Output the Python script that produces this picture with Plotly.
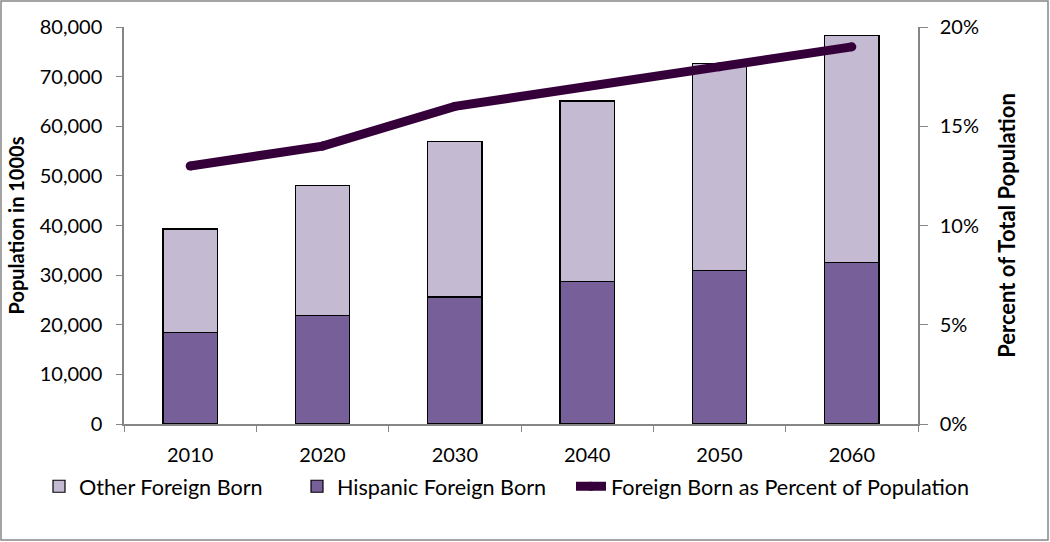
import plotly.graph_objects as go

years = ["2010", "2020", "2030", "2040", "2050", "2060"]
hispanic = [18500, 21800, 25600, 28700, 31000, 32500]
total = [39300, 48000, 56900, 65100, 72600, 78300]
other = [t - h for t, h in zip(total, hispanic)]
pct = [0.13, 0.14, 0.16, 0.17, 0.18, 0.19]

FONT = "Lato"
W, H = 1050, 542
ml, mr, mt, mb = 124, 132, 27, 118
pw, ph = W - ml - mr, H - mt - mb


def px_x(p):
    return (p - ml) / pw


fig = go.Figure()
fig.add_trace(go.Bar(x=years, y=hispanic, name="Hispanic Foreign Born",
                     marker=dict(color="#775F99", line=dict(color="black", width=1.2)),
                     legend="legend2"))
fig.add_trace(go.Bar(x=years, y=other, name="Other Foreign Born",
                     marker=dict(color="#C4BBD2", line=dict(color="black", width=1.2)),
                     legend="legend"))
fig.add_trace(go.Scatter(x=years, y=pct, name="Foreign Born as Percent of Population",
                         mode="lines+markers", yaxis="y2",
                         line=dict(color="#35003A", width=9),
                         marker=dict(color="#35003A", size=9),
                         legend="legend3"))

leg_common = dict(orientation="h", xanchor="left", y=-0.158, yanchor="middle",
                  font=dict(family=FONT, size=21.6), itemwidth=30,
                  bgcolor="rgba(0,0,0,0)")

fig.update_layout(
    width=W, height=H,
    margin=dict(l=ml, r=mr, t=mt, b=mb),
    paper_bgcolor="white", plot_bgcolor="white",
    barmode="stack", bargap=0.59,
    font=dict(family=FONT, size=20, color="black"),
    showlegend=True,
    legend=dict(x=px_x(39), **leg_common),
    legend2=dict(x=px_x(297), **leg_common),
    legend3=dict(x=px_x(571), **leg_common),
    xaxis=dict(type="category", showline=True, linecolor="#868686", linewidth=1.5,
               ticks="outside", tickson="boundaries", ticklen=6, tickcolor="#868686",
               showgrid=False, tickfont=dict(size=20), ticklabelstandoff=12),
    yaxis=dict(range=[0, 80000], dtick=10000, tickformat=",d", showline=True,
               linecolor="#868686", linewidth=1.5, ticks="outside", ticklen=6,
               tickcolor="#868686", showgrid=False, zeroline=False,
               ticklabelstandoff=10,
               title=dict(text="<b>Population in 1000s</b>", font=dict(size=20), standoff=10),
               tickfont=dict(size=20)),
    yaxis2=dict(range=[0, 0.2], dtick=0.05, tickformat=".0%", overlaying="y", side="right",
                showline=True, linecolor="#868686", linewidth=1.5, ticks="outside",
                ticklen=8, tickcolor="#868686", showgrid=False, zeroline=False,
                ticklabelstandoff=8,
                title=dict(text="<b>Percent of Total Population</b>", font=dict(size=22), standoff=22),
                tickfont=dict(size=20)),
    shapes=[dict(type="rect", xref="paper", yref="paper",
                 x0=-(ml - 1) / pw, x1=1 + (mr - 2) / pw,
                 y0=-(mb - 2) / ph, y1=1 + (mt - 1) / ph,
                 line=dict(color="#868686", width=1.5), fillcolor="rgba(0,0,0,0)",
                 layer="below")],
)

fig.write_html("out.html", config={"displayModeBar": False},
               post_script="document.body.style.margin='0';document.body.style.padding='0';")
